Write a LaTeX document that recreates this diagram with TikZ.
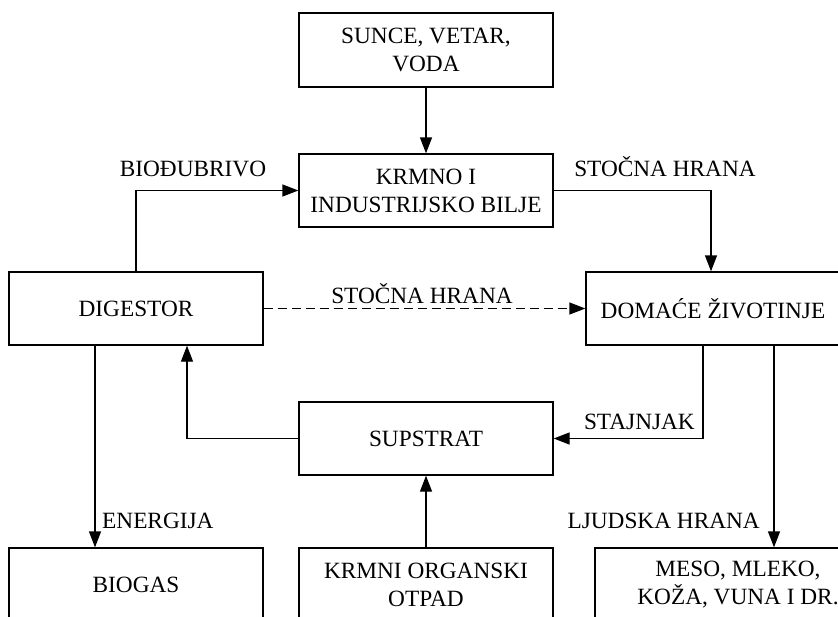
\documentclass[tikz,border=0pt]{standalone}
\usepackage{fontspec}
\setmainfont{Liberation Serif}
\usetikzlibrary{arrows.meta}
\begin{document}
\begin{tikzpicture}[x=1pt,y=-1pt,
  box/.style={draw,line width=1.3pt,rectangle,inner sep=0pt,align=center,
    minimum width=254pt,minimum height=73pt,
    font=\fontsize{23.3pt}{28pt}\selectfont},
  lbl/.style={inner sep=0pt,anchor=base,font=\fontsize{23.3pt}{28pt}\selectfont},
  conn/.style={line width=1.3pt,-{Triangle[length=16pt,width=12pt]}},
  dashconn/.style={conn,dash pattern=on 9pt off 5pt}]
\useasboundingbox (0,0) rectangle (838,616);
\clip (0,0) rectangle (838,616);
\node[box,minimum height=74pt] (sun) at (426,50) {SUNCE, VETAR,\\VODA};
\node[box] (krm) at (426,190.5) {KRMNO I\\INDUSTRIJSKO BILJE};
\node[box] (dig) at (136,308.5) {DIGESTOR};
\node[box] (dom) at (713,308.5) {DOMAĆE ŽIVOTINJE};
\node[box] (sup) at (426,438.5) {SUPSTRAT};
\node[box] (bio) at (136,584.5) {BIOGAS};
\node[box] (otp) at (426,584.5) {KRMNI ORGANSKI\\OTPAD};
\node[box,minimum width=286pt] (mes) at (738,584.5) {MESO, MLEKO,\\KOŽA, VUNA I DR.};
\draw[conn] (sun.south) -- (krm.north);
\draw[conn] (dig.north) |- (krm.west);
\draw[conn] (krm.east) -| ([xshift=-2pt]dom.north);
\draw[dashconn] (dig.east) -- (dom.west);
\draw[conn] ([xshift=-10pt]dom.south) |- (sup.east);
\draw[conn] (sup.west) -| ([xshift=51pt]dig.south);
\draw[conn] ([xshift=-41pt]dig.south) -- ([xshift=-41pt]bio.north);
\draw[conn] (otp.north) -- (sup.south);
\draw[conn] ([xshift=61pt]dom.south) -- ([xshift=61pt]dom.south |- mes.north);
\node[lbl] (l1) at (193,176) {BIOĐUBRIVO};
\node[lbl] (l2) at (665,176) {STOČNA HRANA};
\node[lbl] (l3) at (422,303) {STOČNA HRANA};
\node[lbl,anchor=base east] (l4) at (695,429) {STAJNJAK};
\node[lbl,anchor=base west] (l5) at (102,528) {ENERGIJA};
\node[lbl,anchor=base east] (l6) at (760,528) {LJUDSKA HRANA};
\end{tikzpicture}
\end{document}
